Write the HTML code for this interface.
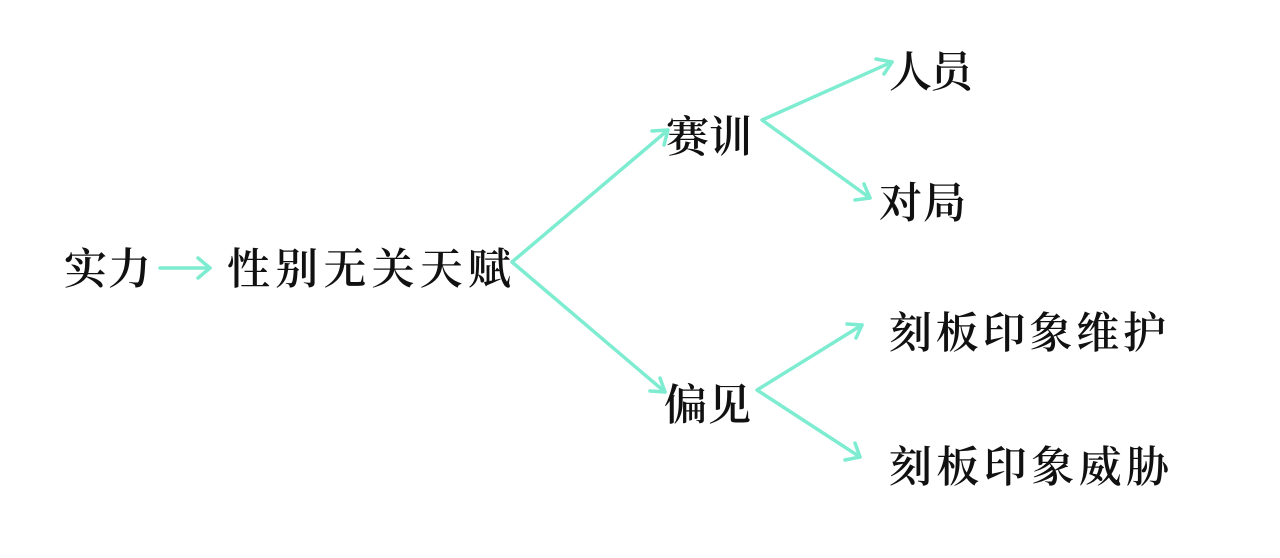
<!DOCTYPE html>
<html><head><meta charset="utf-8"><style>
html,body{margin:0;padding:0;background:#fff;}
svg{display:block;}
text{font-family:"Noto Serif CJK SC","WenQuanYi Zen Hei",serif;font-size:43px;font-weight:600;fill:#111;}
</style></head><body>
<svg width="1280" height="558" viewBox="0 0 1280 558" xmlns="http://www.w3.org/2000/svg">
<g stroke="#7eecd0" stroke-width="3.5" fill="none" stroke-linecap="round" stroke-linejoin="round">
<line x1="160" y1="268" x2="210" y2="268"/><polyline points="198,258 210,268 198,278"/>
<polyline points="668,130 512,262 665,392"/>
<polyline points="652,131 668,130 664,145"/>
<polyline points="650,391 665,392 660,378"/>
<polyline points="892,62 762,120 870,198"/>
<polyline points="876,59 892,62 884,74"/>
<polyline points="855,200 870,198 864,184"/>
<polyline points="862,325 757,390 860,457"/>
<polyline points="847,324 862,325 856,338"/>
<polyline points="845,460 860,457 855,443"/>
</g>
<text x="64" y="284" textLength="87" lengthAdjust="spacing">实力</text>
<text x="227" y="284" textLength="284" lengthAdjust="spacing">性别无关天赋</text>
<text x="666" y="152" textLength="86" lengthAdjust="spacing">赛训</text>
<text x="889" y="87" textLength="84" lengthAdjust="spacing">人员</text>
<text x="879" y="218" textLength="87" lengthAdjust="spacing">对局</text>
<text x="664" y="420" textLength="87" lengthAdjust="spacing">偏见</text>
<text x="889" y="348" textLength="277" lengthAdjust="spacing">刻板印象维护</text>
<text x="889" y="482" textLength="280" lengthAdjust="spacing">刻板印象威胁</text>
</svg>
</body></html>
